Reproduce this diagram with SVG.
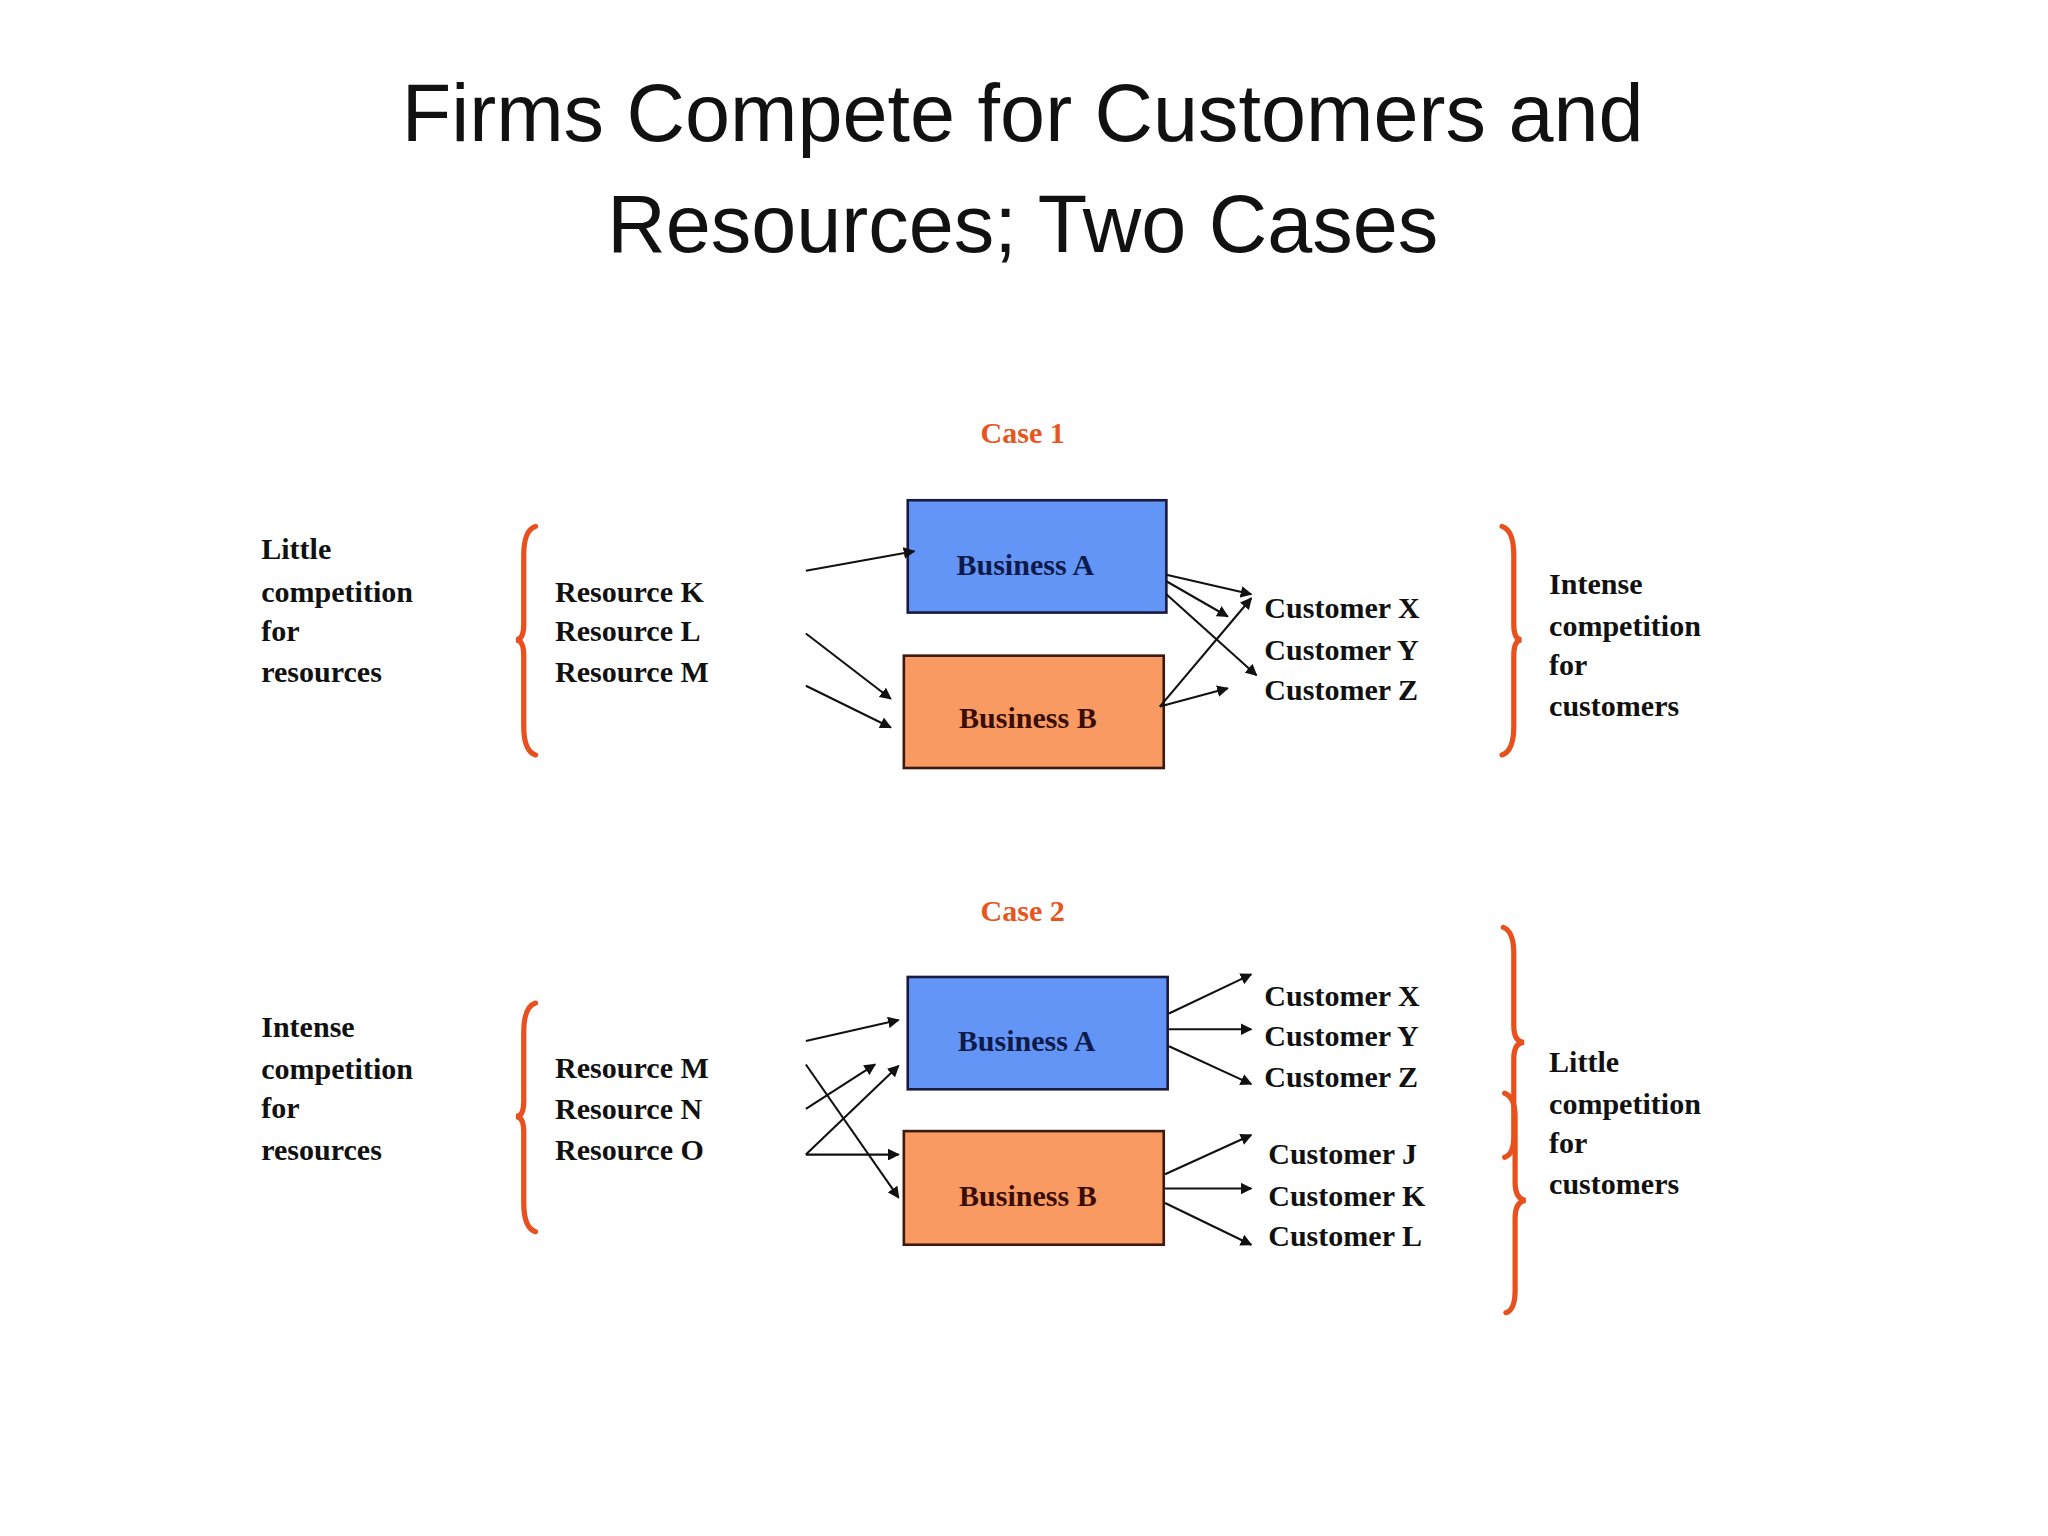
<svg xmlns="http://www.w3.org/2000/svg" width="2048" height="1536" viewBox="0 0 2048 1536">
<style>
.t{font-family:"Liberation Serif","Times New Roman",serif;font-weight:bold;font-size:23px;fill:#111}
.h{font-family:"Liberation Sans",Arial,sans-serif;font-size:62px;fill:#111;text-anchor:middle}
.c{font-family:"Liberation Serif",serif;font-weight:bold;font-size:23px;fill:#e8561e;text-anchor:middle}
.b{font-family:"Liberation Serif",serif;font-weight:bold;font-size:23px;text-anchor:middle}
.br{fill:none;stroke:#e8501e;stroke-width:4;stroke-linecap:round}
.ar{stroke:#111;stroke-width:1.6;fill:none;marker-end:url(#a)}
</style>
<defs><marker id="a" viewBox="0 0 10 10" refX="9" refY="5" markerWidth="9" markerHeight="9" markerUnits="userSpaceOnUse" orient="auto"><path d="M0,0L10,5L0,10z" fill="#111"/></marker></defs>
<rect width="2048" height="1536" fill="#fff"/>
<g transform="scale(1.30612)">
<text class="h" x="783" y="108">Firms Compete for Customers and</text>
<text class="h" x="783" y="193">Resources; Two Cases</text>
<text class="c" x="783" y="339">Case 1</text>
<text class="c" x="783" y="705">Case 2</text>
<g id="case1-left"><text class="t" x="200" y="428">Little</text><text class="t" x="200" y="461">competition</text><text class="t" x="200" y="491">for</text><text class="t" x="200" y="522">resources</text></g>
<g id="case1-res"><text class="t" x="425" y="461">Resource K</text><text class="t" x="425" y="491">Resource L</text><text class="t" x="425" y="522">Resource M</text></g>
<g id="c1A"><rect x="695" y="383" width="198" height="86" fill="#6395f7" stroke="#1a1a40" stroke-width="2"/><text class="b" x="785" y="440" fill="#0d1a4a">Business A</text></g>
<g id="c1B"><rect x="692" y="502" width="199" height="86" fill="#f99a62" stroke="#3a1a10" stroke-width="2"/><text class="b" x="787" y="557" fill="#3a0d05">Business B</text></g>
<g id="case1-cust"><text class="t" x="968" y="473">Customer X</text><text class="t" x="968" y="505">Customer Y</text><text class="t" x="968" y="536">Customer Z</text></g>
<g id="case1-right"><text class="t" x="1186" y="455">Intense</text><text class="t" x="1186" y="487">competition</text><text class="t" x="1186" y="517">for</text><text class="t" x="1186" y="548">customers</text></g>
<g id="case2-left"><text class="t" x="200" y="794">Intense</text><text class="t" x="200" y="826">competition</text><text class="t" x="200" y="856">for</text><text class="t" x="200" y="888">resources</text></g>
<g id="case2-res"><text class="t" x="425" y="825">Resource M</text><text class="t" x="425" y="857">Resource N</text><text class="t" x="425" y="888">Resource O</text></g>
<g id="c2A"><rect x="695" y="748" width="199" height="86" fill="#6395f7" stroke="#1a1a40" stroke-width="2"/><text class="b" x="786" y="805" fill="#0d1a4a">Business A</text></g>
<g id="c2B"><rect x="692" y="866" width="199" height="87" fill="#f99a62" stroke="#3a1a10" stroke-width="2"/><text class="b" x="787" y="923" fill="#3a0d05">Business B</text></g>
<g id="case2-cust"><text class="t" x="968" y="770">Customer X</text><text class="t" x="968" y="801">Customer Y</text><text class="t" x="968" y="832">Customer Z</text><text class="t" x="971" y="891">Customer J</text><text class="t" x="971" y="923">Customer K</text><text class="t" x="971" y="954">Customer L</text></g>
<g id="case2-right"><text class="t" x="1186" y="821">Little</text><text class="t" x="1186" y="853">competition</text><text class="t" x="1186" y="883">for</text><text class="t" x="1186" y="914">customers</text></g>
<g id="braces">
<path class="br" d="M410,403 Q401,406 401,425 L401,478 Q401,490 395,490 Q401,490 401,502 L401,556 Q401,575 410,578"/>
<path class="br" d="M1150,403 Q1159,406 1159,425 L1159,478 Q1159,490 1165,490 Q1159,490 1159,502 L1159,556 Q1159,575 1150,578"/>
<path class="br" d="M410,768 Q401,771 401,790 L401,843 Q401,855 395,855 Q401,855 401,867 L401,921 Q401,940 410,943"/>
<path class="br" d="M1151,710 Q1159,713 1159,730 L1159,785 Q1159,798 1167,798 Q1159,798 1159,811 L1159,870 Q1159,884 1152,886"/>
<path class="br" d="M1152,837 Q1160,840 1160,855 L1160,905 Q1160,918 1168,919 Q1160,920 1160,933 L1160,988 Q1160,1003 1153,1005"/>
</g>
<g id="connectors">
<path class="ar" d="M617,437L700,422"/>
<path class="ar" d="M617,485L682,535"/>
<path class="ar" d="M617,525L682,557"/>
<path class="ar" d="M893,440L958,455"/>
<path class="ar" d="M893,445L940,472"/>
<path class="ar" d="M893,455L962,517"/>
<path class="ar" d="M888,541L958,458"/>
<path class="ar" d="M888,541L940,527"/>
<path class="ar" d="M617,797L688,781"/>
<path class="ar" d="M617,815L688,917"/>
<path class="ar" d="M617,849L670,815"/>
<path class="ar" d="M617,884L688,816"/>
<path class="ar" d="M617,884L688,884"/>
<path class="ar" d="M895,776L958,746"/>
<path class="ar" d="M895,788L958,788"/>
<path class="ar" d="M895,801L958,830"/>
<path class="ar" d="M892,899L958,869"/>
<path class="ar" d="M892,910L958,910"/>
<path class="ar" d="M892,921L958,953"/>
</g>
</g>
</svg>
